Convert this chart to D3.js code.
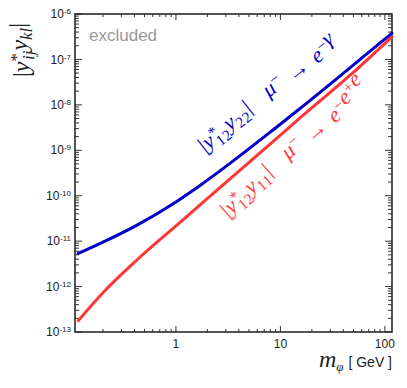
<!DOCTYPE html>
<html>
<head>
<meta charset="utf-8">
<script src="https://cdn.jsdelivr.net/npm/d3@7"></script>
<style>
  body { margin: 0; background: #fff; }
  text { font-family: "Liberation Sans", Arial, sans-serif; }
  .math { font-family: "Liberation Serif", "DejaVu Serif", serif; }
</style>
</head>
<body>
<div id="chart"></div>
<script>
// values (mass in GeV, |y* y| bound)
const masses = [0.116, 0.2, 0.42, 1.0, 1.7, 8.86, 15.4, 46.2, 117];
const boundEGamma = [5.35e-12, 9.5e-12, 2.23e-11, 7.3e-11, 1.68e-10, 3.02e-9, 8.3e-9, 6.5e-8, 3.8e-7];
const boundThreeE = [1.77e-13, 7.3e-13, 3.8e-12, 2.17e-11, 6.25e-11, 1.7e-9, 5.14e-9, 4.43e-8, 3.16e-7];

const yTickExps = [-6, -7, -8, -9, -10, -11, -12, -13];
const xTickLabels = ["1", "10", "100"];

const svgWidth = 407;
const svgHeight = 388;
const margin = { top: 14, right: 15, bottom: 56, left: 75 };
const width = svgWidth - margin.left - margin.right;
const height = svgHeight - margin.top - margin.bottom;

const svg = d3.select("#chart")
  .append("svg")
  .attr("width", svgWidth)
  .attr("height", svgHeight);

const chartGroup = svg.append("g")
  .attr("transform", `translate(${margin.left}, ${margin.top})`);

const xScale = d3.scaleLog().domain([0.108, 117]).range([0, width]);
const yScale = d3.scaleLog().domain([1e-13, 1e-6]).range([height, 0]);

// minor / major tick positions
const xMajor = [1, 10, 100];
const xMinor = [];
[0.1, 1, 10].forEach(dec => {
  for (let k = 2; k <= 9; k++) {
    const v = dec * k;
    if (v >= 0.108 && v <= 117) xMinor.push(v);
  }
});
const yMajor = yTickExps.map(e => Math.pow(10, e));
const yMinor = [];
yTickExps.slice(1).forEach(e => {
  for (let k = 2; k <= 9; k++) yMinor.push(k * Math.pow(10, e));
});

const ticks = chartGroup.append("g").attr("stroke", "#333").attr("stroke-width", 1);

// bottom + top ticks
xMajor.forEach(v => {
  const x = xScale(v);
  ticks.append("line").attr("x1", x).attr("x2", x).attr("y1", height).attr("y2", height - 6);
  ticks.append("line").attr("x1", x).attr("x2", x).attr("y1", 0).attr("y2", 6);
});
xMinor.forEach(v => {
  const x = xScale(v);
  ticks.append("line").attr("x1", x).attr("x2", x).attr("y1", height).attr("y2", height - 3);
  ticks.append("line").attr("x1", x).attr("x2", x).attr("y1", 0).attr("y2", 3);
});
// left + right ticks
yMajor.forEach(v => {
  const y = yScale(v);
  ticks.append("line").attr("x1", 0).attr("x2", 7).attr("y1", y).attr("y2", y);
  ticks.append("line").attr("x1", width).attr("x2", width - 7).attr("y1", y).attr("y2", y);
});
yMinor.forEach(v => {
  const y = yScale(v);
  ticks.append("line").attr("x1", 0).attr("x2", 4).attr("y1", y).attr("y2", y);
  ticks.append("line").attr("x1", width).attr("x2", width - 4).attr("y1", y).attr("y2", y);
});

// frame
chartGroup.append("rect")
  .attr("width", width)
  .attr("height", height)
  .attr("fill", "none")
  .attr("stroke", "#2a2a2a")
  .attr("stroke-width", 1.6);

// y tick labels
yTickExps.forEach(e => {
  const t = chartGroup.append("text")
    .attr("x", -4)
    .attr("y", yScale(Math.pow(10, e)))
    .attr("dy", "0.35em")
    .attr("text-anchor", "end")
    .style("font-size", "12px")
    .style("fill", "#222");
  t.append("tspan").text("10");
  t.append("tspan").attr("dy", "-0.5em").style("font-size", "8px").text(String(e));
});

// x tick labels
xTickLabels.forEach(s => {
  chartGroup.append("text")
    .attr("x", xScale(+s))
    .attr("y", height + 16)
    .attr("text-anchor", "middle")
    .style("font-size", "12px")
    .style("fill", "#222")
    .text(s);
});

// curves
const line = d3.line()
  .x(d => xScale(d[0]))
  .y(d => yScale(d[1]))
  .curve(d3.curveMonotoneX);

chartGroup.append("path")
  .datum(masses.map((m, i) => [m, boundThreeE[i]]))
  .attr("d", line)
  .attr("fill", "none")
  .attr("stroke", "#ff3636")
  .attr("stroke-width", 3)
  .attr("stroke-linecap", "round");

chartGroup.append("path")
  .datum(masses.map((m, i) => [m, boundEGamma[i]]))
  .attr("d", line)
  .attr("fill", "none")
  .attr("stroke", "#0000c8")
  .attr("stroke-width", 3)
  .attr("stroke-linecap", "round");

// "excluded"
chartGroup.append("text")
  .attr("x", 14)
  .attr("y", 27)
  .style("font-size", "17px")
  .style("fill", "#999")
  .text("excluded");

// curve labels
function couplingLabel(g, sub2) {
  const t = g.append("text").attr("class", "math").style("letter-spacing", "0.5px");
  t.append("tspan").text("|");
  t.append("tspan").style("font-style", "italic").text("y");
  t.append("tspan").attr("dy", "-0.45em").style("font-size", "0.7em").text("*");
  t.append("tspan").attr("dx", "-0.45em").attr("dy", "0.75em").style("font-size", "0.7em").text("12");
  t.append("tspan").attr("dy", "-0.3em").style("font-style", "italic").text("y");
  t.append("tspan").attr("dy", "0.3em").style("font-size", "0.7em").text(sub2);
  t.append("tspan").attr("dy", "-0.3em").text("|");
  return t;
}
function decayLabel(t, finals) {
  t.append("tspan").attr("dx", "0.9em").style("font-style", "italic").text("μ");
  t.append("tspan").attr("dy", "-0.45em").style("font-size", "0.7em").text("−");
  t.append("tspan").attr("dy", "0.45em").text("\u2004→\u2004");
  finals.forEach(f => {
    t.append("tspan").style("font-style", "italic").text(f[0]);
    if (f[1]) {
      t.append("tspan").attr("dy", "-0.45em").style("font-size", "0.7em").text(f[1]);
      t.append("tspan").attr("dy", "0.45em").text("");
    }
  });
}

const blueLabel = svg.append("g")
  .attr("transform", "translate(205,153) rotate(-38)")
  .style("fill", "#0000c8")
  .style("font-size", "22px");
decayLabel(couplingLabel(blueLabel, "22"), [["e", "−"], ["γ", null]]);

const redLabel = svg.append("g")
  .attr("transform", "translate(228,218) rotate(-41)")
  .style("fill", "#ff3636")
  .style("font-size", "22px");
decayLabel(couplingLabel(redLabel, "11"), [["e", "−"], ["e", "+"], ["e", "−"]]);

// axis titles
const yTitle = svg.append("text")
  .attr("class", "math")
  .attr("transform", "translate(29,50) rotate(-90)")
  .attr("text-anchor", "middle")
  .style("font-size", "24px")
  .style("fill", "#222");
yTitle.append("tspan").text("|");
yTitle.append("tspan").style("font-style", "italic").text("y");
yTitle.append("tspan").attr("dy", "-0.4em").style("font-size", "0.7em").text("*");
yTitle.append("tspan").attr("dx", "-0.4em").attr("dy", "0.7em").style("font-size", "0.7em").style("font-style", "italic").text("ij");
yTitle.append("tspan").attr("dy", "-0.3em").style("font-style", "italic").text("y");
yTitle.append("tspan").attr("dy", "0.3em").style("font-size", "0.7em").style("font-style", "italic").text("kl");
yTitle.append("tspan").attr("dy", "-0.3em").text("|");

const xTitle = svg.append("text")
  .attr("x", 392)
  .attr("y", 367)
  .attr("text-anchor", "end")
  .style("fill", "#222");
xTitle.append("tspan").attr("class", "math").style("font-style", "italic").style("font-size", "24px").text("m");
xTitle.append("tspan").attr("class", "math").attr("dy", "4").style("font-style", "italic").style("font-size", "13px").text("φ");
xTitle.append("tspan").attr("dy", "-4").attr("dx", "5").style("font-size", "14px").text("[ GeV ]");
</script>
</body>
</html>
